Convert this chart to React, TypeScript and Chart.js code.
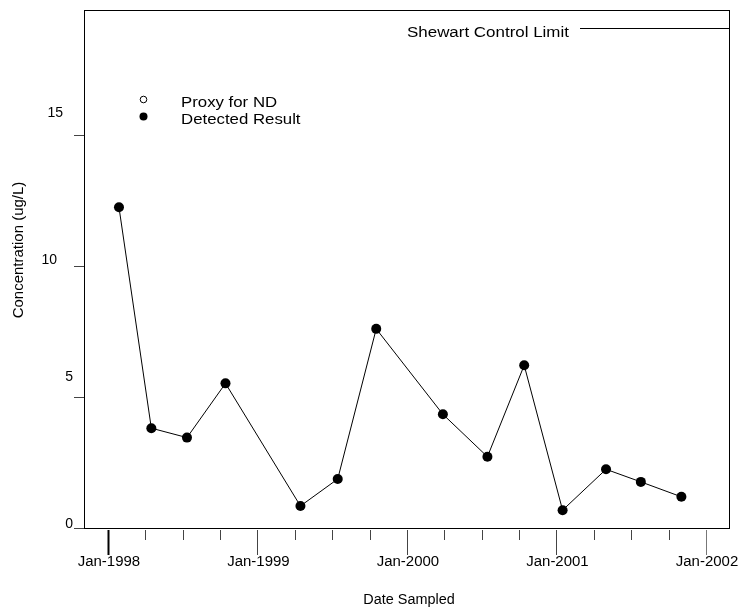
import React, { useEffect, useRef } from "react";
import { Chart, registerables } from "chart.js";

Chart.register(...registerables);

// ---- data ----
const sampleDates = [
  "1998-01-28", "1998-04-17", "1998-07-13", "1998-10-15",
  "1999-04-16", "1999-07-16", "1999-10-18",
  "2000-03-29", "2000-07-16", "2000-10-14",
  "2001-01-16", "2001-05-02", "2001-07-26", "2001-11-02",
];
const detectedResult = [12.24, 3.81, 3.45, 5.52, 0.84, 1.87, 7.6, 4.34, 2.72, 6.21, 0.68, 2.24, 1.76, 1.19];
const yTickValues = [0, 5, 10, 15];
const yTickLabels = ["0", "5", "10", "15"];
const xMajorYears = [1998, 1999, 2000, 2001, 2002];
const xMajorLabels = ["Jan-1998", "Jan-1999", "Jan-2000", "Jan-2001", "Jan-2002"];
const legendLabels = ["Proxy for ND", "Detected Result"];
const controlLimitLabel = "Shewart Control Limit";
const xTitle = "Date Sampled";
const yTitle = "Concentration (ug/L)";

// ---- style constants ----
const FONT = "'Liberation Sans', Arial, Helvetica, sans-serif";
const yLabelOffsets = [
  { dx: -1, dy: 0 },
  { dx: -1, dy: -16 },
  { dx: -17, dy: -2 },
  { dx: -11, dy: -18 },
];

function decimalYear(s: string): number {
  const [y, m, d] = s.split("-").map(Number);
  const start = Date.UTC(y, 0, 1);
  const doy = (Date.UTC(y, m - 1, d) - start) / 86400000;
  const days = (Date.UTC(y + 1, 0, 1) - start) / 86400000;
  return y + doy / days;
}

function drawText(ctx: CanvasRenderingContext2D, text: string, x: number, y: number, align: CanvasTextAlign, sx: number) {
  ctx.save();
  ctx.translate(x, y);
  ctx.scale(sx, 1);
  ctx.textAlign = align;
  ctx.fillText(text, 0, 0);
  ctx.restore();
}

const splusPlugin = {
  id: "splusDecor",
  afterDraw(chart: any) {
    const { ctx, chartArea, scales } = chart;
    const xs = scales.x;
    const ys = scales.y;
    const { left, right, top, bottom } = chartArea;
    ctx.save();
    // box
    ctx.strokeStyle = "#000";
    ctx.lineWidth = 1;
    ctx.strokeRect(Math.round(left) + 0.5, Math.round(top) + 0.5, Math.round(right - left), Math.round(bottom - top));

    // y ticks + labels
    ctx.font = `14px ${FONT}`;
    ctx.fillStyle = "#000";
    ctx.textBaseline = "alphabetic";
    yTickValues.forEach((v, i) => {
      const py = Math.round(ys.getPixelForValue(v)) + 0.5;
      ctx.strokeStyle = "#444";
      ctx.beginPath();
      ctx.moveTo(left - 10, py);
      ctx.lineTo(left, py);
      ctx.stroke();
      const off = yLabelOffsets[i] || { dx: -2, dy: 0 };
      drawText(ctx, yTickLabels[i], left - 10 + off.dx, Math.round(ys.getPixelForValue(v)) + off.dy, "right", 1);
    });

    // x ticks: quarterly minor, yearly major
    const first = xMajorYears[0];
    const last = xMajorYears[xMajorYears.length - 1];
    for (let q = first * 4; q <= last * 4; q++) {
      const v = q / 4;
      const px = Math.round(xs.getPixelForValue(v)) + 0.5;
      const major = q % 4 === 0;
      ctx.strokeStyle = major && v === first ? "#000" : major && v === last ? "#777" : "#444";
      ctx.lineWidth = major && v === first ? 2 : 1;
      ctx.beginPath();
      ctx.moveTo(px, bottom + 2);
      ctx.lineTo(px, bottom + (major ? 27 : 12));
      ctx.stroke();
    }
    ctx.lineWidth = 1;
    xMajorYears.forEach((yr, i) => {
      const px = xs.getPixelForValue(yr);
      drawText(ctx, xMajorLabels[i], px + 1, bottom + 38, "center", 1.07);
    });

    // axis titles
    drawText(ctx, xTitle, 409, 604, "center", 1.03);
    ctx.save();
    ctx.translate(23, 250);
    ctx.rotate(-Math.PI / 2);
    ctx.scale(1.07, 1);
    ctx.textAlign = "center";
    ctx.fillText(yTitle, 0, 0);
    ctx.restore();

    // legend
    ctx.strokeStyle = "#000";
    ctx.beginPath();
    ctx.arc(143.5, 99.5, 3.3, 0, Math.PI * 2);
    ctx.stroke();
    ctx.beginPath();
    ctx.arc(143.5, 116.5, 4, 0, Math.PI * 2);
    ctx.fill();
    drawText(ctx, legendLabels[0], 181, 107, "left", 1.2);
    drawText(ctx, legendLabels[1], 181, 124, "left", 1.2);

    // control limit
    drawText(ctx, controlLimitLabel, 407, 37, "left", 1.21);
    ctx.beginPath();
    ctx.moveTo(580, 28.5);
    ctx.lineTo(right, 28.5);
    ctx.stroke();
    ctx.restore();
  },
};

export default function App() {
  const ref = useRef<HTMLCanvasElement | null>(null);
  useEffect(() => {
    if (!ref.current) return;
    const points = sampleDates.map((d, i) => ({ x: decimalYear(d), y: detectedResult[i] }));
    const chart = new Chart(ref.current, {
      type: "line",
      data: {
        datasets: [
          {
            label: legendLabels[1],
            data: points,
            borderColor: "#000",
            backgroundColor: "#000",
            borderWidth: 1,
            pointRadius: 5,
            pointBackgroundColor: "#000",
            pointBorderColor: "#000",
            pointBorderWidth: 0,
            tension: 0,
          },
        ],
      },
      options: {
        responsive: false,
        animation: false,
        devicePixelRatio: 1,
        layout: { padding: { left: 84, top: 10, right: 9, bottom: 81 } },
        plugins: { legend: { display: false }, tooltip: { enabled: false } },
        scales: {
          x: { type: "linear", min: 1997.84, max: 2002.154, display: false },
          y: { type: "linear", min: 0, max: 19.77, display: false },
        },
      },
      plugins: [splusPlugin],
    });
    return () => chart.destroy();
  }, []);
  return (
    <div style={{ position: "fixed", left: 0, top: 0, width: 738, height: 609, background: "#fff" }}>
      <canvas ref={ref} width={738} height={609} style={{ display: "block" }} />
    </div>
  );
}
